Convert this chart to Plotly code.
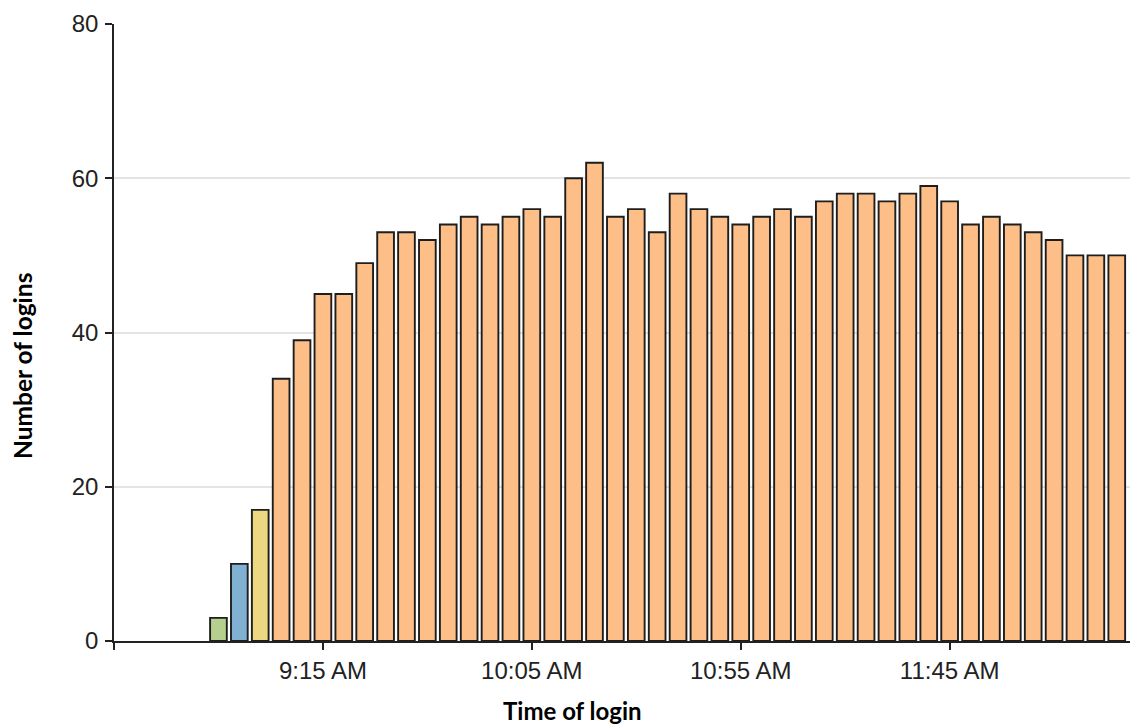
import plotly.graph_objects as go

# ---- data ----
times = ["08:50", "08:55", "09:00", "09:05", "09:10", "09:15", "09:20", "09:25",
         "09:30", "09:35", "09:40", "09:45", "09:50", "09:55", "10:00", "10:05",
         "10:10", "10:15", "10:20", "10:25", "10:30", "10:35", "10:40", "10:45",
         "10:50", "10:55", "11:00", "11:05", "11:10", "11:15", "11:20", "11:25",
         "11:30", "11:35", "11:40", "11:45", "11:50", "11:55", "12:00", "12:05",
         "12:10", "12:15", "12:20", "12:25"]
logins = [3, 10, 17, 34, 39, 45, 45, 49, 53, 53, 52, 54, 55, 54, 55, 56,
          55, 60, 62, 55, 56, 53, 58, 56, 55, 54, 55, 56, 55, 57, 58, 58,
          57, 58, 59, 57, 54, 55, 54, 53, 52, 50, 50, 50]
groups = ["g", "b", "y"] + ["o"] * 41

tick_times = ["09:15", "10:05", "10:55", "11:45"]
tick_labels = ["9:15 AM", "10:05 AM", "10:55 AM", "11:45 AM"]
y_ticks = [0, 20, 40, 60, 80]

DAY = "2024-01-01 "
group_colors = {"g": "#b5cf8f", "b": "#80b1d3", "y": "#ecd880", "o": "#fdbf87"}

x_vals = [DAY + t for t in times]
colors = [group_colors[g] for g in groups]

W, H = 1130, 725
L, T = 114, 24
PB = 641  # plot bottom in px
B = H - PB
PW = W - L
PH = PB - T

fig = go.Figure()
fig.add_trace(go.Bar(
    x=x_vals, y=logins,
    width=[240000] * len(x_vals),
    marker=dict(color=colors, line=dict(color="#1e1e1e", width=1.9)),
    hoverinfo="x+y",
))

fig.update_layout(
    width=W, height=H,
    margin=dict(l=L, r=0, t=T, b=B),
    plot_bgcolor="white", paper_bgcolor="white",
    showlegend=False,
    font=dict(family="Liberation Sans, Arial, sans-serif", size=24, color="#222222"),
    xaxis=dict(
        type="date",
        range=[DAY + "08:25:00", DAY + "12:28:10"],
        tickmode="array",
        tickvals=[DAY + "08:25"] + [DAY + t for t in tick_times],
        ticktext=[""] + tick_labels,
        ticks="outside", ticklen=7, tickwidth=1.5, tickcolor="#222222",
        showline=True, linecolor="#222222", linewidth=1.5,
        showgrid=False, zeroline=False,
        tickfont=dict(size=24, color="#222222"),
    ),
    yaxis=dict(
        range=[0, 80],
        tickmode="array", tickvals=y_ticks,
        ticks="outside", ticklen=7, tickwidth=1.5, tickcolor="#222222",
        showline=True, linecolor="#222222", linewidth=1.5,
        showgrid=True, gridcolor="#e4e4e4", gridwidth=2,
        zeroline=False, ticklabelstandoff=2,
        tickfont=dict(size=24, color="#222222"),
    ),
    annotations=[
        dict(text="<b>Time of login</b>", xref="paper", yref="paper",
             x=(572 - L) / PW, y=-(710 - PB) / PH,
             xanchor="center", yanchor="middle", showarrow=False,
             font=dict(family="Lato, Open Sans, sans-serif", size=24, color="#000000")),
        dict(text="<b>Number of logins</b>", xref="paper", yref="paper",
             x=-(L - 22) / PW, y=(PB - 366) / PH,
             xanchor="center", yanchor="middle", textangle=-90, showarrow=False,
             font=dict(family="Lato, Open Sans, sans-serif", size=24.5, color="#000000")),
    ],
)

fig.write_html("out.html",
               config={"displayModeBar": False},
               post_script="document.body.style.margin='0px';document.body.style.overflow='hidden';")
